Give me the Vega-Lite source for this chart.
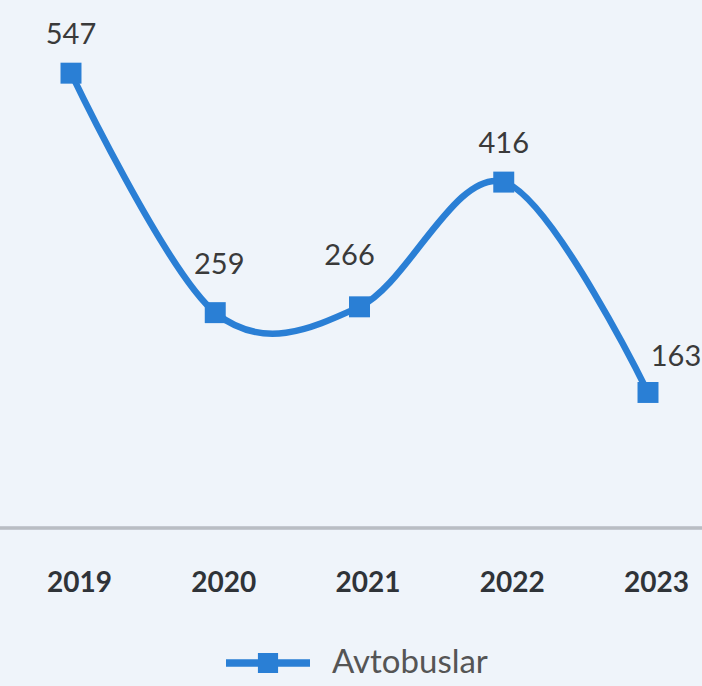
{
  "$schema": "https://vega.github.io/schema/vega-lite/v6.json",
  "width": 702,
  "height": 528,
  "autosize": {"type": "none"},
  "padding": {"left": 0, "top": 0, "right": 0, "bottom": 158},
  "background": "#eff4fa",
  "config": {"view": {"stroke": null}, "font": "Lato"},
  "data": {"values": [
    {"year": "2019", "value": 547, "series": "Avtobuslar"},
    {"year": "2020", "value": 259, "series": "Avtobuslar"},
    {"year": "2021", "value": 266, "series": "Avtobuslar"},
    {"year": "2022", "value": 416, "series": "Avtobuslar"},
    {"year": "2023", "value": 163, "series": "Avtobuslar"}
  ]},
  "encoding": {
    "x": {"field": "year", "type": "ordinal", "scale": {"type": "point", "range": [71, 648], "padding": 0},
      "axis": {"title": null, "domain": false, "ticks": false, "tickSize": 0, "grid": false, "labelAngle": 0,
        "labelFont": "Lato", "labelFontSize": 28, "labelFontWeight": "bold", "labelColor": "#2f3338",
        "labelBaseline": "middle", "labelPadding": 55, "labelOffset": 8}},
    "y": {"field": "value", "type": "quantitative", "scale": {"domain": [0, 635], "nice": false}, "axis": null}
  },
  "layer": [
    {"mark": {"type": "rule", "color": "#b9bdc3", "strokeWidth": 2.5},
     "encoding": {"x": null, "y": {"datum": 0, "type": "quantitative"}}},
    {"mark": {"type": "line", "interpolate": "cardinal", "tension": 0, "color": "#2a7fd5", "strokeWidth": 6.5}},
    {"mark": {"type": "point", "shape": "square", "filled": true, "size": 440, "opacity": 1},
     "encoding": {"color": {"field": "series", "type": "nominal", "scale": {"range": ["#2a7fd5"]},
       "legend": {"title": null, "orient": "none", "legendX": 226, "legendY": 621,
         "symbolType": "M-1,-0.09H1V0.09H-1Z M-0.24,-0.24H0.24V0.24H-0.24Z", "symbolSize": 7056,
         "symbolStrokeWidth": 0, "labelFont": "Lato", "labelFontSize": 33, "labelColor": "#555555", "labelOffset": 22}}}},
    {"transform": [{"filter": "datum.year == '2019' || datum.year == '2022'"}],
     "mark": {"type": "text", "dy": -38, "fontSize": 29, "color": "#3a3a3a", "baseline": "middle"},
     "encoding": {"text": {"field": "value"}}},
    {"transform": [{"filter": "datum.year == '2020'"}],
     "mark": {"type": "text", "dy": -48, "dx": 4, "fontSize": 29, "color": "#3a3a3a", "baseline": "middle"},
     "encoding": {"text": {"field": "value"}}},
    {"transform": [{"filter": "datum.year == '2021'"}],
     "mark": {"type": "text", "dy": -51, "dx": -10, "fontSize": 29, "color": "#3a3a3a", "baseline": "middle"},
     "encoding": {"text": {"field": "value"}}},
    {"transform": [{"filter": "datum.year == '2023'"}],
     "mark": {"type": "text", "dy": -35, "dx": 28, "fontSize": 29, "color": "#3a3a3a", "baseline": "middle"},
     "encoding": {"text": {"field": "value"}}}
  ]
}
